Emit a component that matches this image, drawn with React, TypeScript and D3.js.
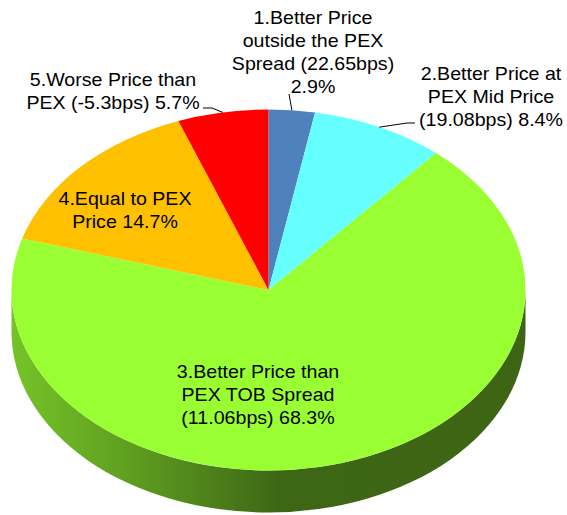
import { useEffect, useRef } from 'react';
import * as d3 from 'd3';

// ── data ───────────────────────────────────────────
const shares = [2.9, 8.4, 68.3, 14.7, 5.7];
// category text broken into lines the way the chart shows it; '' = percent goes on its own line
const nameLines = [
  ['1.Better Price', 'outside the PEX', 'Spread (22.65bps)', ''],
  ['2.Better Price at', 'PEX Mid Price', '(19.08bps)'],
  ['3.Better Price than', 'PEX TOB Spread', '(11.06bps)'],
  ['4.Equal to PEX', 'Price'],
  ['5.Worse Price than', 'PEX (-5.3bps)'],
];
const colors = ['#4f81bd', '#66ffff', '#99ff33', '#ffc000', '#ff0000'];

// ── layout ─────────────────────────────────────────
const W = 567, H = 515;
const cx = 268.5, cy = 290, rx = 257, ry = 180.5, depth = 42;
const font = "'Liberation Sans', Arial, sans-serif";
const fontSize = 18, stretch = 1.09, lineH = 23;
// label block centres, and where each leader line meets its label (x, y, elbow length)
const labelAt = [[313, 52.5], [491, 96.7], [258, 395], [125, 210.5], [113, 91.5]];
const leaderTo = [[289, 94, 0], [415, 123, 8], null, null, [203, 108, 9]];

export default function App() {
  const svgRef = useRef(null);

  useEffect(() => {
    const svg = d3.select(svgRef.current);
    svg.selectAll('*').remove();

    const k = ry / rx;
    const pie = d3.pie().sort(null).value(d => d).startAngle(0).endAngle(2 * Math.PI);
    const arcs = pie(shares);
    const edge = a => [cx + rx * Math.sin(a), cy - ry * Math.cos(a)];

    // side shading: lighter on the left, dark from the middle to the right
    const defs = svg.append('defs');
    colors.forEach((c, i) => {
      const g = defs.append('linearGradient').attr('id', `side${i}`)
        .attr('gradientUnits', 'userSpaceOnUse')
        .attr('x1', -rx).attr('x2', rx).attr('y1', 0).attr('y2', 0);
      const base = d3.rgb(c);
      g.append('stop').attr('offset', '0%').attr('stop-color', base.darker(0.75).formatHex());
      g.append('stop').attr('offset', '22%').attr('stop-color', base.darker(1.3).formatHex());
      g.append('stop').attr('offset', '52%').attr('stop-color', base.darker(2.55).formatHex());
      g.append('stop').attr('offset', '100%').attr('stop-color', base.darker(2.6).formatHex());
    });

    // pie drawn as a circle of radius rx squashed vertically
    const root = svg.append('g').attr('transform', `translate(${cx},${cy}) scale(1,${k})`);

    // side walls (front half only: angles between PI/2 and 3PI/2)
    arcs.forEach((d, i) => {
      const a0 = Math.max(d.startAngle, Math.PI / 2);
      const a1 = Math.min(d.endAngle, 3 * Math.PI / 2);
      if (a1 <= a0) return;
      const dz = depth / k;
      const p = d3.path();
      p.moveTo(rx * Math.sin(a0), -rx * Math.cos(a0));
      p.arc(0, 0, rx, a0 - Math.PI / 2, a1 - Math.PI / 2, false);
      p.lineTo(rx * Math.sin(a1), -rx * Math.cos(a1) + dz);
      p.arc(0, dz, rx, a1 - Math.PI / 2, a0 - Math.PI / 2, true);
      p.closePath();
      root.append('path').attr('d', p.toString()).attr('fill', `url(#side${i})`);
    });

    // top face
    const arc = d3.arc().innerRadius(0).outerRadius(rx);
    root.selectAll('path.top').data(arcs).join('path').attr('class', 'top')
      .attr('d', arc).attr('fill', (d, i) => colors[i]);

    // leader lines
    arcs.forEach((d, i) => {
      const t = leaderTo[i];
      if (!t) return;
      const s = edge((d.startAngle + d.endAngle) / 2);
      const elbowX = t[0] + Math.sign(s[0] - t[0]) * t[2];
      const pts = [s, [elbowX, t[1]], [t[0], t[1]]];
      svg.append('path').attr('d', d3.line()(pts))
        .attr('fill', 'none').attr('stroke', '#000').attr('stroke-width', 1);
    });

    // labels
    arcs.forEach((d, i) => {
      const lines = nameLines[i].slice();
      const last = lines.pop();
      const pct = `${shares[i].toFixed(1)}%`;
      lines.push(last ? `${last} ${pct}` : pct);
      const [lx, ly] = labelAt[i];
      const g = svg.append('g').attr('transform', `translate(${lx},${ly}) scale(${stretch},1)`);
      const y0 = -((lines.length - 1) * lineH) / 2;
      lines.forEach((ln, j) => {
        g.append('text').attr('x', 0).attr('y', y0 + j * lineH)
          .attr('text-anchor', 'middle').attr('dominant-baseline', 'central')
          .attr('font-family', font).attr('font-size', fontSize).attr('fill', '#000')
          .text(ln);
      });
    });
  }, []);

  return (
    <svg ref={svgRef} width={W} height={H}
      style={{ position: 'absolute', left: 0, top: 0, display: 'block', background: '#fff' }} />
  );
}
